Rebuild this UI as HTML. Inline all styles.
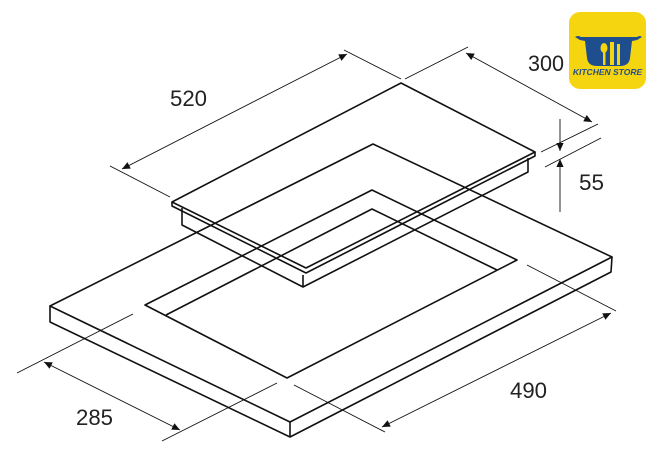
<!DOCTYPE html>
<html><head><style>
html,body{margin:0;padding:0;background:#fff;}
svg{display:block}
text{font-family:"Liberation Sans",sans-serif;}
</style></head><body>
<svg width="658" height="468" viewBox="0 0 658 468" xmlns="http://www.w3.org/2000/svg">
<defs>
<marker id="a" viewBox="0 0 10 10" refX="10" refY="5" markerWidth="18" markerHeight="8" markerUnits="userSpaceOnUse" orient="auto-start-reverse">
<path d="M0,0.5 L10,5 L0,9.5 Z" fill="#111"/></marker>
</defs>
<g fill="none" stroke="#111" stroke-width="1.6" stroke-linejoin="round">
<path d="M373,144 L612,257 L290,422 L50,306 Z"/>
<path d="M50,306 L50,322 L290,437 L611,272 L612,257"/>
<path d="M290,422 L290,437"/>
<path d="M372,190 L517,260 L287,378 L145,305 Z"/>
<path d="M166,315 L372,209 L497,270"/>
<path d="M401,83 L535,152 L306,268 L172,202 Z"/>
<path d="M172,202 L172,206 L306,273 L535,156 L535,152"/>
<path d="M182,208 L182,225 L303,287 L528,172 L528,158"/>
<path d="M303,275 L303,287"/>
</g>
<g stroke="#111" stroke-width="0.9" fill="none">
<line x1="110" y1="166" x2="170" y2="197"/>
<line x1="344" y1="50" x2="401" y2="79"/>
<line x1="122" y1="169" x2="347" y2="54" marker-start="url(#a)" marker-end="url(#a)"/>
<line x1="405" y1="79" x2="468" y2="47"/>
<line x1="541" y1="152" x2="598" y2="124"/>
<line x1="466" y1="53" x2="592" y2="122" marker-start="url(#a)" marker-end="url(#a)"/>
<line x1="545" y1="167" x2="601" y2="138"/>
<line x1="560" y1="119" x2="560" y2="151" marker-end="url(#a)"/>
<line x1="560" y1="212" x2="560" y2="159" marker-end="url(#a)"/>
<line x1="17" y1="373" x2="133" y2="314"/>
<line x1="162" y1="441" x2="277" y2="383"/>
<line x1="44" y1="362" x2="180" y2="430" marker-start="url(#a)" marker-end="url(#a)"/>
<line x1="527" y1="265" x2="616" y2="311"/>
<line x1="294" y1="385" x2="385" y2="432"/>
<line x1="611" y1="313" x2="382" y2="427" marker-start="url(#a)" marker-end="url(#a)"/>
</g>
<g font-size="22" fill="#222">
<text x="170" y="106" textLength="37" lengthAdjust="spacingAndGlyphs">520</text>
<text x="528" y="71" textLength="36" lengthAdjust="spacingAndGlyphs">300</text>
<text x="579" y="190" textLength="25" lengthAdjust="spacingAndGlyphs">55</text>
<text x="76" y="425" textLength="37" lengthAdjust="spacingAndGlyphs">285</text>
<text x="510" y="398" textLength="37" lengthAdjust="spacingAndGlyphs">490</text>
</g>
<rect x="569" y="12" width="77" height="77" rx="11" fill="#F5D410"/>
<path d="M575,37 Q578,35 581,37 L637,37 Q640,35 642,37 L637,40 L632,41 L630,58 Q629,66 620,66 L597,66 Q588,66 587,58 L585,41 L580,40 Z" fill="#1F4E8F"/>
<g fill="#F5D410">
<ellipse cx="604" cy="48" rx="3.5" ry="5"/><rect x="603" y="51" width="2.5" height="14"/>
<rect x="610" y="42" width="4" height="23"/><rect x="617" y="44" width="3" height="21"/>
</g>
<text x="607.5" y="75" text-anchor="middle" font-size="8.5" font-weight="bold" font-style="italic" fill="#1F4E8F">KITCHEN STORE</text>
</svg>
</body></html>
